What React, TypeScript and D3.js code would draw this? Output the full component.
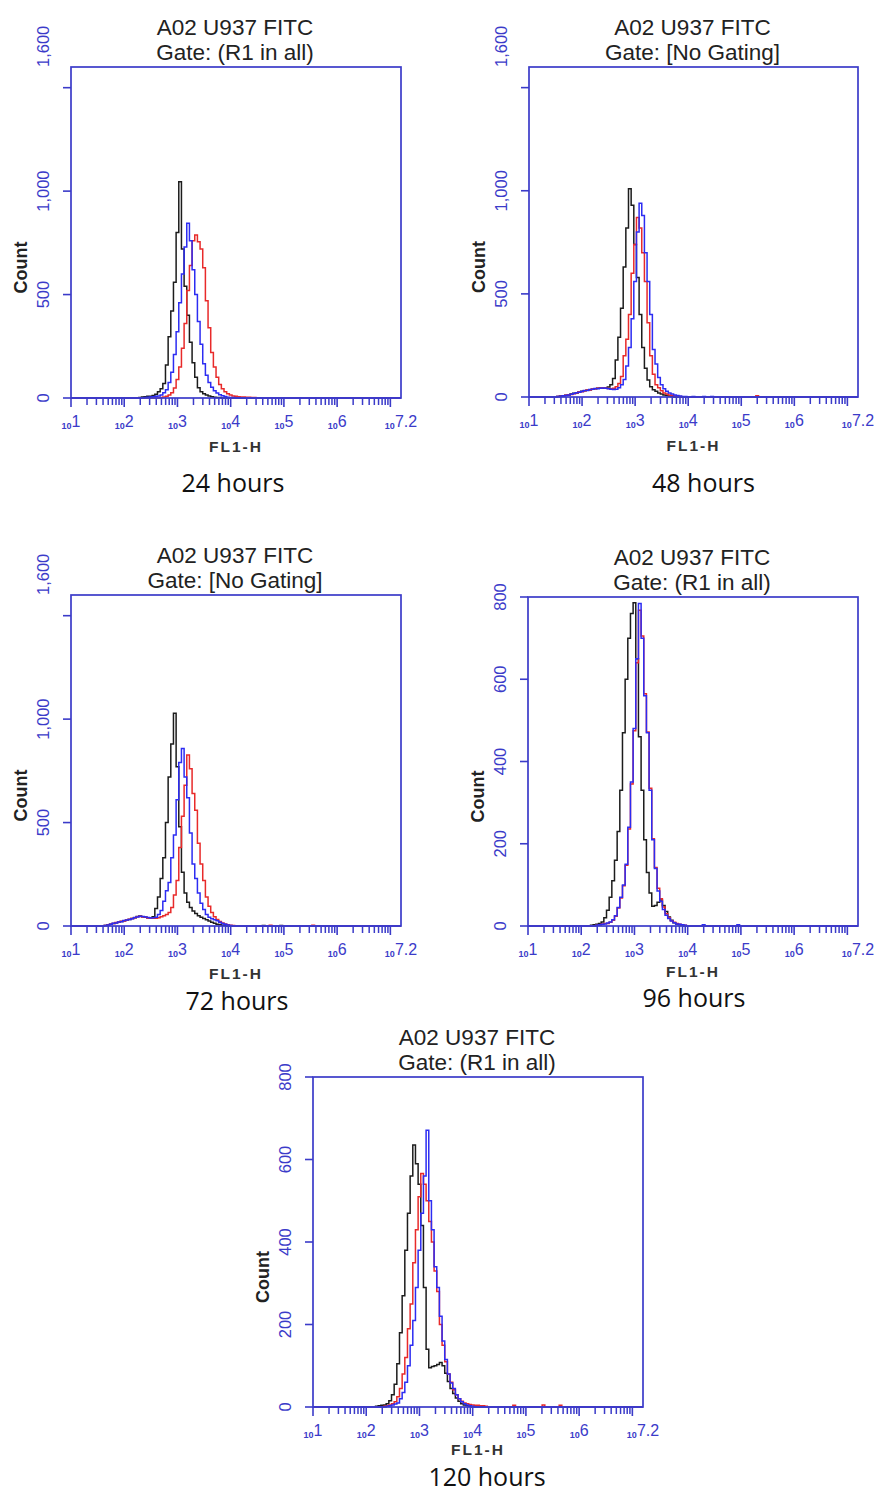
import React from 'react';
import * as d3 from 'd3';

// Histogram bin width, in decades of FL1-H
const BIN = 0.05;
const LOG_MIN = 1;
const LOG_MAX = 7.2;

// ---- 24 hours ----
const h24BlackStart = 2.3;
const h24Black = [3, 5, 6, 8, 8, 12, 18, 30, 45, 70, 160, 296, 420, 560, 800, 1045, 720, 540, 400, 270, 170, 100, 50, 30, 20, 14, 10, 6, 4, 3, 2];
const h24BlueStart = 2.4;
const h24Blue = [3, 4, 5, 6, 8, 10, 15, 25, 40, 75, 125, 210, 320, 460, 600, 730, 845, 760, 620, 500, 370, 260, 165, 110, 75, 52, 35, 24, 16, 11, 7, 4, 3, 2];
const h24RedStart = 2.7;
const h24Red = [3, 5, 8, 14, 25, 48, 90, 150, 240, 360, 520, 640, 760, 788, 755, 720, 630, 470, 340, 220, 150, 100, 65, 45, 30, 20, 14, 10, 8, 6, 5, 5, 4, 4, 3, 2];

// ---- 48 hours ----
const h48BlackStart = 1.55;
const h48Black = [3, 5, 6, 8, 10, 14, 18, 20, 24, 28, 30, 33, 35, 38, 40, 42, 44, 42, 44, 48, 60, 90, 180, 290, 430, 630, 820, 1010, 930, 740, 580, 400, 240, 140, 82, 50, 35, 28, 20, 14, 10, 7, 5, 3];
const h48BlueStart = 1.55;
const h48Blue = [2, 4, 6, 7, 10, 13, 17, 21, 23, 27, 31, 32, 36, 37, 41, 40, 43, 44, 42, 40, 38, 36, 38, 45, 60, 85, 150, 240, 380, 560, 800, 940, 880, 700, 560, 400, 230, 160, 95, 60, 40, 28, 20, 14, 10, 7, 5, 3, 2];
const h48BlueSpikes: [number, number][] = [[4.1, 3], [4.3, 3], [4.45, 2]];
const h48RedStart = 1.55;
const h48Red = [3, 4, 5, 8, 11, 12, 16, 20, 25, 26, 30, 34, 34, 39, 40, 43, 42, 45, 43, 41, 40, 42, 50, 65, 100, 200, 280, 400, 600, 740, 870, 820, 700, 560, 360, 200, 110, 60, 45, 30, 20, 14, 10, 7, 5, 3, 2];
const h48RedSpikes: [number, number][] = [[5.3, 6]];

// ---- 72 hours ----
const h72BlackStart = 1.65;
const h72Black = [3, 6, 9, 12, 16, 18, 22, 25, 28, 32, 36, 40, 46, 48, 45, 42, 40, 38, 45, 85, 140, 230, 330, 500, 720, 880, 1028, 770, 480, 260, 160, 115, 90, 72, 60, 50, 42, 36, 30, 24, 18, 13, 9, 6, 4, 2];
const h72BlackSpikes: [number, number][] = [[4.62, 3], [4.95, 3]];
const h72BlueStart = 1.65;
const h72Blue = [2, 5, 8, 13, 15, 19, 21, 26, 29, 31, 35, 41, 44, 47, 46, 43, 41, 39, 40, 42, 55, 75, 120, 170, 210, 330, 440, 610, 790, 858, 720, 620, 450, 300, 230, 160, 110, 80, 55, 42, 35, 30, 25, 18, 12, 8, 5, 3];
const h72RedStart = 1.65;
const h72Red = [3, 5, 9, 12, 17, 18, 23, 24, 29, 33, 36, 40, 45, 47, 44, 43, 39, 38, 38, 38, 40, 45, 50, 55, 65, 90, 150, 220, 380, 530, 680, 826, 760, 640, 560, 400, 300, 220, 140, 95, 65, 45, 32, 22, 15, 10, 6, 4, 2];
const h72RedSpikes: [number, number][] = [[4.75, 4], [5.55, 4]];

// ---- 96 hours ----
const h96BlackStart = 2.2;
const h96Black = [2, 3, 4, 6, 10, 20, 38, 70, 110, 160, 230, 330, 470, 600, 700, 760, 786, 650, 460, 330, 210, 130, 80, 48, 50, 58, 63, 50, 35, 22, 14, 8, 5, 3, 2];
const h96BlueStart = 2.3;
const h96Blue = [2, 3, 4, 5, 7, 10, 15, 25, 45, 70, 100, 150, 240, 350, 480, 650, 784, 700, 560, 470, 330, 210, 140, 85, 60, 40, 26, 18, 12, 8, 5, 4, 3, 2];
const h96BlueSpikes: [number, number][] = [[4.3, 3], [4.95, 3]];
const h96RedStart = 2.3;
const h96Red = [2, 2, 5, 6, 6, 9, 14, 24, 44, 68, 98, 148, 236, 345, 475, 640, 768, 705, 565, 472, 335, 212, 142, 92, 66, 46, 30, 20, 13, 9, 6, 4, 3, 2];

// ---- 120 hours ----
const h120BlackStart = 2.2;
const h120Black = [2, 3, 4, 5, 8, 15, 30, 55, 105, 180, 270, 380, 470, 560, 635, 590, 540, 440, 290, 140, 95, 98, 100, 103, 108, 100, 82, 62, 45, 33, 22, 14, 8, 5, 3, 2];
const h120BlueStart = 2.4;
const h120Blue = [2, 3, 5, 7, 10, 20, 35, 60, 100, 150, 210, 290, 380, 470, 560, 671, 500, 430, 340, 290, 220, 160, 115, 80, 58, 45, 30, 20, 13, 8, 5, 3, 2];
const h120RedStart = 2.35;
const h120Red = [2, 3, 5, 8, 13, 25, 45, 80, 120, 190, 250, 350, 430, 510, 566, 540, 500, 450, 400, 330, 280, 200, 150, 110, 80, 60, 42, 30, 20, 14, 10, 8, 6, 5, 4, 4, 3, 3, 2];
const h120RedSpikes: [number, number][] = [[4.78, 4], [5.33, 5], [5.65, 4]];

// Axis ticks and labels
const decadeExps = [1, 2, 3, 4, 5, 6, 7];
const minorMultipliers = [2, 3, 4, 5, 6, 7, 8, 9];
const xLabelExps = ['1', '2', '3', '4', '5', '6', '7.2'];
const xLabelLogs = [1, 2, 3, 4, 5, 6, 7.2];
const yTicksBig = [0, 500, 1000, 1500];
const yLabelsBig = ['0', '500', '1,000'];
const yTicksSmall = [0, 200, 400, 600, 800];
const yLabelsSmall = ['0', '200', '400', '600', '800'];

const AXIS_BLUE = '#3b3bc9';
const COLORS = { black: '#1c1c1c', blue: '#2c2cf2', red: '#e82a2a' };
const ARIAL = "'Liberation Sans', Arial, sans-serif";

type Series = { start: number; counts: number[]; spikes?: [number, number][]; color: string };

type PanelSpec = {
  gate: string;
  hours: string;
  x: number;
  y: number;
  w: number;
  h: number;
  yMax: number;
  axisTitleDy: number;
  hoursDx: number;
  hoursDy: number;
  series: Series[];
};

const panels: PanelSpec[] = [
  {
    gate: 'Gate: (R1 in all)', hours: '24 hours', x: 71, y: 67, w: 330, h: 331, yMax: 1600, axisTitleDy: 54, hoursDx: -3, hoursDy: 94,
    series: [
      { start: h24BlackStart, counts: h24Black, color: COLORS.black },
      { start: h24RedStart, counts: h24Red, color: COLORS.red },
      { start: h24BlueStart, counts: h24Blue, color: COLORS.blue },
    ],
  },
  {
    gate: 'Gate: [No Gating]', hours: '48 hours', x: 529, y: 67, w: 329, h: 330, yMax: 1600, axisTitleDy: 54, hoursDx: 10, hoursDy: 95,
    series: [
      { start: h48BlackStart, counts: h48Black, color: COLORS.black },
      { start: h48RedStart, counts: h48Red, spikes: h48RedSpikes, color: COLORS.red },
      { start: h48BlueStart, counts: h48Blue, spikes: h48BlueSpikes, color: COLORS.blue },
    ],
  },
  {
    gate: 'Gate: [No Gating]', hours: '72 hours', x: 71, y: 595, w: 330, h: 331, yMax: 1600, axisTitleDy: 53, hoursDx: 1, hoursDy: 84,
    series: [
      { start: h72BlackStart, counts: h72Black, spikes: h72BlackSpikes, color: COLORS.black },
      { start: h72RedStart, counts: h72Red, spikes: h72RedSpikes, color: COLORS.red },
      { start: h72BlueStart, counts: h72Blue, color: COLORS.blue },
    ],
  },
  {
    gate: 'Gate: (R1 in all)', hours: '96 hours', x: 528, y: 597, w: 330, h: 329, yMax: 800, axisTitleDy: 51, hoursDx: 1, hoursDy: 81,
    series: [
      { start: h96BlackStart, counts: h96Black, color: COLORS.black },
      { start: h96RedStart, counts: h96Red, color: COLORS.red },
      { start: h96BlueStart, counts: h96Blue, spikes: h96BlueSpikes, color: COLORS.blue },
    ],
  },
  {
    gate: 'Gate: (R1 in all)', hours: '120 hours', x: 313, y: 1077, w: 330, h: 330, yMax: 800, axisTitleDy: 48, hoursDx: 9, hoursDy: 79,
    series: [
      { start: h120BlackStart, counts: h120Black, color: COLORS.black },
      { start: h120RedStart, counts: h120Red, spikes: h120RedSpikes, color: COLORS.red },
      { start: h120BlueStart, counts: h120Blue, color: COLORS.blue },
    ],
  },
];

// Build stepped-histogram vertices (log10 channel, count), running along zero outside the data
function histogramPoints(s: Series): [number, number][] {
  const pts: [number, number][] = [[LOG_MIN, 0], [s.start - BIN, 0]];
  s.counts.forEach((c, i) => pts.push([s.start + i * BIN, c]));
  pts.push([s.start + s.counts.length * BIN, 0]);
  (s.spikes || []).forEach(([lx, c]) => {
    pts.push([lx - BIN, 0], [lx, c], [lx + BIN, 0]);
  });
  pts.push([LOG_MAX, 0]);
  return pts.sort((a, b) => a[0] - b[0]);
}

function Panel({ p }: { p: PanelSpec }) {
  const left = p.x;
  const top = p.y;
  const right = p.x + p.w;
  const bottom = p.y + p.h;
  const cx = (left + right) / 2;

  const xScale = d3.scaleLog().domain([10 ** LOG_MIN, 10 ** LOG_MAX]).range([left, right]);
  const yScale = d3.scaleLinear().domain([0, p.yMax]).range([bottom, top]);

  const line = d3
    .line<[number, number]>()
    .x((d) => xScale(10 ** d[0]))
    .y((d) => yScale(d[1]))
    .curve(d3.curveStep);

  const big = p.yMax > 1000;
  const yTicks = big ? yTicksBig : yTicksSmall;
  const yLabels = big ? yLabelsBig : yLabelsSmall;

  const minorTicks: number[] = [];
  decadeExps.slice(0, 6).forEach((e) => minorMultipliers.forEach((m) => minorTicks.push(m * 10 ** e)));

  return (
    <g>
      {/* Title */}
      <text x={cx - 1} y={top - 32} textAnchor="middle" fontFamily={ARIAL} fontSize={22.5} fill="#222">
        A02 U937 FITC
      </text>
      <text x={cx - 1} y={top - 7} textAnchor="middle" fontFamily={ARIAL} fontSize={22.5} fill="#222">
        {p.gate}
      </text>

      {/* Histograms */}
      {p.series.map((s, i) => (
        <path key={i} d={line(histogramPoints(s)) || ''} fill="none" stroke={s.color} strokeWidth={1.5} strokeLinejoin="miter" />
      ))}

      {/* Frame */}
      <rect x={left} y={top} width={p.w} height={p.h} fill="none" stroke={AXIS_BLUE} strokeWidth={1.7} />

      {/* Y axis ticks and labels */}
      {yTicks.map((v) => (
        <line key={'yt' + v} x1={left - 8} x2={left} y1={yScale(v)} y2={yScale(v)} stroke={AXIS_BLUE} strokeWidth={1.6} />
      ))}
      {yLabels.map((lab, i) => {
        const yy = yScale(yTicks[i]);
        return (
          <text key={'yl' + i} transform={`translate(${left - 22},${yy}) rotate(-90)`} textAnchor="middle" fontFamily={ARIAL} fontSize={16.5} fill={AXIS_BLUE}>
            {lab}
          </text>
        );
      })}
      {big && (
        <text transform={`translate(${left - 22},${top}) rotate(-90)`} textAnchor="start" fontFamily={ARIAL} fontSize={16.5} fill={AXIS_BLUE}>
          1,600
        </text>
      )}
      <text transform={`translate(${left - 44},${(top + bottom) / 2 + 35}) rotate(-90)`} textAnchor="middle" fontFamily={ARIAL} fontWeight="bold" fontSize={18} fill="#222">
        Count
      </text>

      {/* X axis ticks */}
      {decadeExps.map((e) => (
        <line key={'xd' + e} x1={xScale(10 ** e)} x2={xScale(10 ** e)} y1={bottom} y2={bottom + 9} stroke={AXIS_BLUE} strokeWidth={1.6} />
      ))}
      {minorTicks.map((v, i) => (
        <line key={'xm' + i} x1={xScale(v)} x2={xScale(v)} y1={bottom} y2={bottom + 7} stroke={AXIS_BLUE} strokeWidth={1.5} />
      ))}
      {xLabelExps.map((lab, i) => (
        <text key={'xl' + i} x={xScale(10 ** xLabelLogs[i])} y={bottom + 31} textAnchor="middle" fontFamily={ARIAL} fill={AXIS_BLUE} fontWeight="bold">
          <tspan fontSize={9}>10</tspan>
          <tspan fontSize={16} fontWeight="normal" dy={-2}>{lab}</tspan>
        </text>
      ))}
      <text x={cx} y={bottom + p.axisTitleDy} textAnchor="middle" fontFamily={ARIAL} fontWeight="bold" fontSize={15.5} letterSpacing={2} fill="#333">
        FL1-H
      </text>

      {/* Time point */}
      <text x={cx + p.hoursDx} y={bottom + p.hoursDy} textAnchor="middle" fontFamily="'Open Sans', 'Noto Sans', sans-serif" fontSize={25} fill="#111">
        {p.hours}
      </text>
    </g>
  );
}

export default function App() {
  return (
    <svg
      width={879}
      height={1494}
      viewBox="0 0 879 1494"
      style={{ position: 'absolute', left: 0, top: 0, background: '#fff' }}
    >
      <rect x={0} y={0} width={879} height={1494} fill="#fff" />
      {panels.map((p, i) => (
        <Panel key={i} p={p} />
      ))}
    </svg>
  );
}
